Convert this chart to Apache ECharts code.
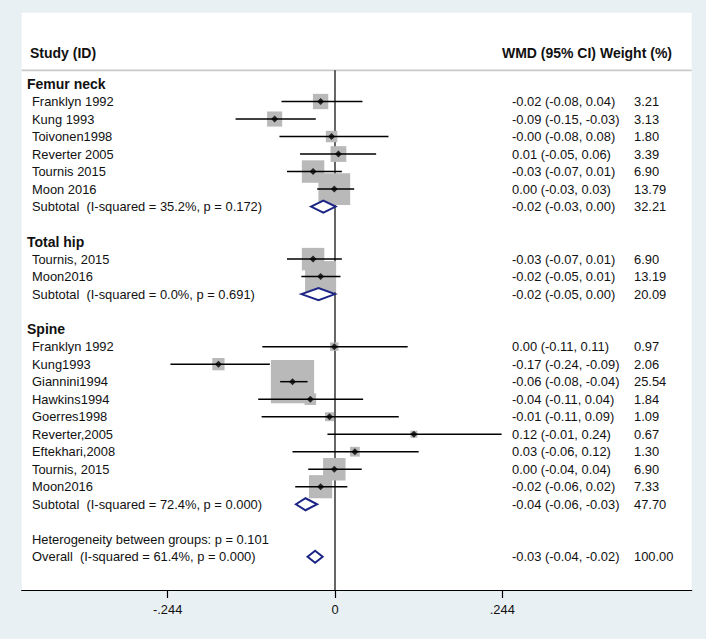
<!DOCTYPE html>
<html><head><meta charset="utf-8">
<script src="https://cdn.jsdelivr.net/npm/echarts@6/dist/echarts.min.js"></script>
<style>html,body{margin:0;padding:0;background:#e9f0f3}#c{width:706px;height:639px}</style>
</head><body><div id="c"></div>
<script>
// ---------- data ----------
const groupNames = ['Femur neck', 'Total hip', 'Spine'];
const studyNames = ['Franklyn 1992','Kung 1993','Toivonen1998','Reverter 2005','Tournis 2015','Moon 2016',
  'Tournis, 2015','Moon2016',
  'Franklyn 1992','Kung1993','Giannini1994','Hawkins1994','Goerres1998','Reverter,2005','Eftekhari,2008','Tournis, 2015','Moon2016'];
const studyGroup = [0,0,0,0,0,0, 1,1, 2,2,2,2,2,2,2,2,2];
const studyEst  = [-0.021,-0.088,-0.005,0.005,-0.032,-0.001, -0.032,-0.021, -0.001,-0.170,-0.062,-0.036,-0.008,0.115,0.029,-0.001,-0.021];
const studyLow  = [-0.078,-0.145,-0.081,-0.051,-0.070,-0.026, -0.070,-0.049, -0.106,-0.240,-0.080,-0.112,-0.107,-0.011,-0.062,-0.039,-0.058];
const studyHigh = [0.040,-0.028,0.078,0.060,0.010,0.028, 0.010,0.008, 0.106,-0.095,-0.040,0.041,0.093,0.243,0.122,0.039,0.018];
const studyWeight = [3.21,3.13,1.80,3.39,6.90,13.79, 6.90,13.19, 0.97,2.06,25.54,1.84,1.09,0.67,1.30,6.90,7.33];
const studyCI = ['-0.02 (-0.08, 0.04)','-0.09 (-0.15, -0.03)','-0.00 (-0.08, 0.08)','0.01 (-0.05, 0.06)','-0.03 (-0.07, 0.01)','0.00 (-0.03, 0.03)',
  '-0.03 (-0.07, 0.01)','-0.02 (-0.05, 0.01)',
  '0.00 (-0.11, 0.11)','-0.17 (-0.24, -0.09)','-0.06 (-0.08, -0.04)','-0.04 (-0.11, 0.04)','-0.01 (-0.11, 0.09)','0.12 (-0.01, 0.24)','0.03 (-0.06, 0.12)','0.00 (-0.04, 0.04)','-0.02 (-0.06, 0.02)'];

const subLabels = ['Subtotal  (I-squared = 35.2%, p = 0.172)','Subtotal  (I-squared = 0.0%, p = 0.691)','Subtotal  (I-squared = 72.4%, p = 0.000)'];
const subEst  = [-0.017,-0.024,-0.043];
const subLow  = [-0.035,-0.049,-0.057];
const subHigh = [0.001,0.000,-0.026];
const subCI = ['-0.02 (-0.03, 0.00)','-0.02 (-0.05, 0.00)','-0.04 (-0.06, -0.03)'];
const subWeight = [32.21,20.09,47.70];

const hetLabel = 'Heterogeneity between groups: p = 0.101';
const overallLabel = 'Overall  (I-squared = 61.4%, p = 0.000)';
const overallEst = -0.029, overallLow = -0.040, overallHigh = -0.018;
const overallCI = '-0.03 (-0.04, -0.02)';
const overallWeight = 100.00;

const headerLeft = 'Study (ID)';
const headerRight = 'WMD (95% CI) Weight (%)';
const tickValues = [-0.244, 0, 0.244];
const tickLabels = ['-.244', '0', '.244'];

// ---------- layout of rows ----------
const FONT = '"Liberation Sans", Arial, Helvetica, sans-serif';
const texts = [];      // {row, x, text, bold, align}
const studyRows = [];
const diamonds = [];   // {row, est, lo, hi}
let row = 0;
groupNames.forEach((g, gi) => {
  texts.push({row, x: 27, text: g, bold: true});
  row++;
  studyNames.forEach((n, i) => {
    if (studyGroup[i] !== gi) return;
    texts.push({row, x: 32, text: n});
    texts.push({row, x: 512, text: studyCI[i]});
    texts.push({row, x: 634, text: studyWeight[i].toFixed(2)});
    studyRows[i] = row;
    row++;
  });
  texts.push({row, x: 32, text: subLabels[gi]});
  texts.push({row, x: 512, text: subCI[gi]});
  texts.push({row, x: 634, text: subWeight[gi].toFixed(2)});
  diamonds.push({row, est: subEst[gi], lo: subLow[gi], hi: subHigh[gi]});
  row += 2;
});
texts.push({row, x: 32, text: hetLabel});
row++;
texts.push({row, x: 32, text: overallLabel});
texts.push({row, x: 512, text: overallCI});
texts.push({row, x: 634, text: overallWeight.toFixed(2)});
diamonds.push({row, est: overallEst, lo: overallLow, hi: overallHigh});

const headerRow = -1.79, sepRow = -0.78;
texts.push({row: headerRow, x: 30, text: headerLeft, bold: true});
texts.push({row: headerRow, x: 672, text: headerRight, bold: true, align: 'right'});

const xMin = -0.4569, xMax = 0.5202;
const yMin = -4.072, yMax = 28.898;

const chart = echarts.init(document.getElementById('c'), null, {renderer: 'svg'});
chart.setOption({
  animation: false,
  backgroundColor: '#e9f0f3',
  grid: {left: 21.7, right: 14.3, top: 12.7, bottom: 49, show: true, backgroundColor: '#ffffff', borderWidth: 0},
  xAxis: {
    type: 'value', min: xMin, max: xMax,
    axisLine: {show: true, onZero: false, lineStyle: {color: '#000', width: 1.2}},
    axisTick: {show: true, customValues: tickValues, length: 8, lineStyle: {color: '#000', width: 1.2}},
    axisLabel: {show: true, customValues: tickValues, margin: 13, color: '#111', fontSize: 12.9, fontFamily: FONT,
      formatter: v => { const i = tickValues.findIndex(t => Math.abs(t - v) < 1e-9); return i >= 0 ? tickLabels[i] : ''; }},
    splitLine: {show: false}
  },
  yAxis: {type: 'value', inverse: true, min: yMin, max: yMax, show: false, splitLine: {show: false}},
  series: [
    { // separator + zero line
      type: 'custom', silent: true, z: 1,
      data: [[0, sepRow]],
      renderItem: (p, api) => {
        const a = api.coord([xMin, sepRow]), b = api.coord([xMax, sepRow]);
        const z0 = api.coord([0, sepRow]), z1 = api.coord([0, yMax]);
        return {type: 'group', children: [
          {type: 'line', shape: {x1: a[0], y1: a[1], x2: b[0], y2: b[1]}, style: {stroke: '#c9c9c9', lineWidth: 1.6}},
          {type: 'line', shape: {x1: z0[0], y1: z0[1], x2: z1[0], y2: z1[1]}, style: {stroke: '#000', lineWidth: 1.2}, z2: 50}
        ]};
      }
    },
    { // weight boxes
      type: 'custom', silent: true, z: 2,
      data: studyNames.map((n, i) => [studyEst[i], studyRows[i], studyWeight[i]]),
      renderItem: (p, api) => {
        const c = api.coord([api.value(0), api.value(1)]);
        const s = 8.55 * Math.sqrt(api.value(2));
        return {type: 'rect', shape: {x: c[0] - s / 2, y: c[1] - s / 2, width: s, height: s}, style: {fill: '#b9b9b9'}};
      }
    },
    { // CI lines
      type: 'custom', silent: true, z: 3,
      data: studyNames.map((n, i) => [studyLow[i], studyRows[i], studyHigh[i]]),
      renderItem: (p, api) => {
        const a = api.coord([api.value(0), api.value(1)]), b = api.coord([api.value(2), api.value(1)]);
        return {type: 'line', shape: {x1: a[0], y1: a[1], x2: b[0], y2: b[1]}, style: {stroke: '#000', lineWidth: 1.5}};
      }
    },
    { // point estimates
      type: 'scatter', silent: true, z: 4,
      symbol: 'diamond', symbolSize: [7, 7],
      itemStyle: {color: '#000'},
      data: studyNames.map((n, i) => [studyEst[i], studyRows[i]])
    },
    { // pooled diamonds
      type: 'custom', silent: true, z: 5,
      data: diamonds.map(d => [d.lo, d.row, d.est, d.hi]),
      renderItem: (p, api) => {
        const r = api.value(1);
        const l = api.coord([api.value(0), r]), e = api.coord([api.value(2), r]), h = api.coord([api.value(3), r]);
        const hh = 6;
        return {type: 'polygon', shape: {points: [[l[0], l[1]], [e[0], e[1] - hh], [h[0], h[1]], [e[0], e[1] + hh]]},
          style: {fill: '#fff', stroke: '#1c2585', lineWidth: 2}};
      }
    },
    { // texts
      type: 'custom', silent: true, z: 6,
      data: texts.map(t => [0, t.row]),
      renderItem: (p, api) => {
        const t = texts[p.dataIndex];
        const y = api.coord([0, t.row])[1];
        return {type: 'text', x: t.x, y: y, style: {text: t.text, fill: '#111',
          font: (t.bold ? 'bold 14px ' : '12.9px ') + FONT, align: t.align || 'left', verticalAlign: 'middle'}};
      }
    }
  ]
});
</script></body></html>
